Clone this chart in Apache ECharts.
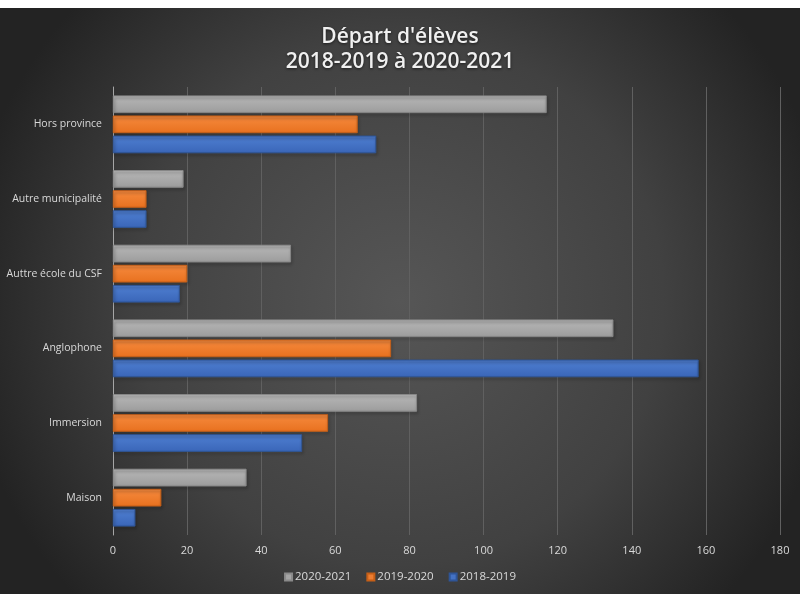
<!DOCTYPE html>
<html>
<head>
<meta charset="utf-8">
<script src="https://cdn.jsdelivr.net/npm/echarts@6/dist/echarts.min.js"></script>
<style>
html,body{margin:0;padding:0;background:#ffffff;}
#chart{position:absolute;left:0;top:8px;width:800px;height:586px;}
</style>
</head>
<body>
<div id="chart"></div>
<script>
const categories = ['Maison', 'Immersion', 'Anglophone', 'Auttre école du CSF', 'Autre municipalité', 'Hors province'];
const seriesNames = ['2020-2021', '2019-2020', '2018-2019'];
const values2020_2021 = [36, 82, 135, 48, 19, 117];
const values2019_2020 = [13, 58, 75, 20, 9, 66];
const values2018_2019 = [6, 51, 158, 18, 9, 71];
const xTicks = [0, 20, 40, 60, 80, 100, 120, 140, 160, 180];

const chart = echarts.init(document.getElementById('chart'));
function grad(top, bottom) {
  return {type: 'linear', x: 0, y: 0, x2: 0, y2: 1, colorStops: [{offset: 0, color: top}, {offset: 1, color: bottom}]};
}
const styles = [
  {color: grad('#b8b8b8', '#9c9c9c'), borderColor: '#8a8a8a', legend: '#a5a5a5'},
  {color: grad('#f68a3e', '#e8711f'), borderColor: '#c65f17', legend: '#ed7d31'},
  {color: grad('#4f7fd2', '#3a66b8'), borderColor: '#2f5597', legend: '#4472c4'}
];
const dataSets = [values2020_2021, values2019_2020, values2018_2019];
const font = '"Open Sans", "DejaVu Sans", sans-serif';

const option = {
  backgroundColor: {
    type: 'radial', x: 0.5, y: 0.5, r: 0.75,
    colorStops: [{offset: 0, color: '#565656'}, {offset: 0.6, color: '#414141'}, {offset: 1, color: '#232323'}]
  },
  title: {
    text: "Départ d'élèves\n2018-2019 à 2020-2021",
    left: 'center',
    top: 12,
    textStyle: {
      color: '#f0f0f0', fontFamily: font, fontWeight: 600, fontSize: 21, lineHeight: 25,
      textShadowColor: 'rgba(0,0,0,0.6)', textShadowBlur: 3, textShadowOffsetY: 1
    }
  },
  legend: {
    data: seriesNames.map((n, i) => ({name: n, itemStyle: {color: styles[i].legend}})),
    bottom: 6,
    left: 'center',
    itemWidth: 7,
    itemHeight: 7,
    itemGap: 15,
    icon: 'rect',
    textStyle: {color: '#d9d9d9', fontFamily: font, fontSize: 11.5, padding: [0, 0, 0, -2]}
  },
  grid: {left: 113, right: 20, top: 79, bottom: 59, containLabel: false},
  xAxis: {
    type: 'value',
    min: xTicks[0],
    max: xTicks[xTicks.length - 1],
    interval: xTicks[1] - xTicks[0],
    axisLine: {show: false},
    axisTick: {show: false},
    splitLine: {show: true, lineStyle: {color: '#606060', width: 1}},
    axisLabel: {color: '#d9d9d9', fontFamily: font, fontSize: 11, margin: 10}
  },
  yAxis: {
    type: 'category',
    data: categories,
    axisLine: {show: true, lineStyle: {color: '#a6a6a6', width: 1}},
    axisTick: {show: false},
    axisLabel: {color: '#d9d9d9', fontFamily: font, fontSize: 10.5, margin: 11}
  },
  series: seriesNames.map((name, i) => ({
    name: name,
    type: 'bar',
    data: dataSets[i],
    barGap: '16%',
    barCategoryGap: '23%',
    itemStyle: {
      color: styles[i].color,
      borderColor: styles[i].borderColor,
      borderWidth: 0.6,
      shadowColor: 'rgba(0,0,0,0.55)',
      shadowBlur: 3,
      shadowOffsetX: 1,
      shadowOffsetY: 2
    }
  }))
};
chart.setOption(option);
</script>
</body>
</html>
